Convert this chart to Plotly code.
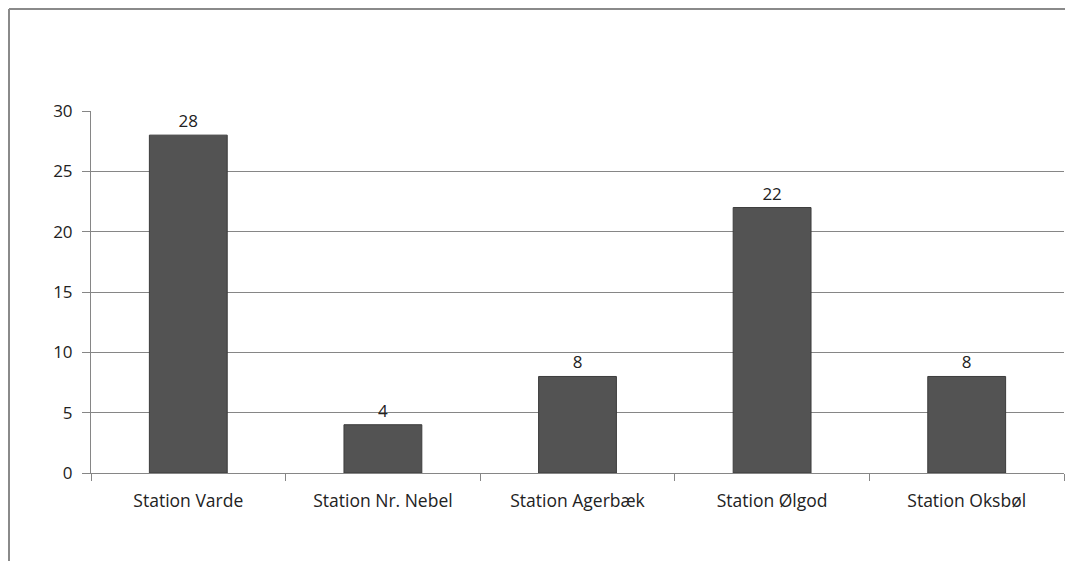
import plotly.graph_objects as go

categories = ["Station Varde", "Station Nr. Nebel", "Station Agerbæk", "Station Ølgod", "Station Oksbøl"]
values = [28, 4, 8, 22, 8]
y_ticks = [0, 5, 10, 15, 20, 25, 30]

# page body has an 8px margin, so the figure starts at (8, 8)
W, H = 1065, 553
L, T = 83, 103
pw, ph = 973, 362
R, B = W - L - pw, H - T - ph

fig = go.Figure()
fig.add_trace(go.Bar(
    x=categories, y=values,
    text=[str(v) for v in values], textposition="outside",
    textfont=dict(family="Open Sans, Liberation Sans, sans-serif", size=17, color="#222222"),
    marker=dict(color="#535353", line=dict(color="#3c3c3c", width=1)),
    width=0.4, cliponaxis=False,
))

fx0 = (1 - L) / pw
fy0 = 1 + (T - 1) / ph
fig.add_shape(type="line", xref="paper", yref="paper", x0=fx0, y0=fy0, x1=fx0, y1=-B / ph,
              line=dict(color="#8a8a8a", width=2))
fig.add_shape(type="line", xref="paper", yref="paper", x0=fx0, y0=fy0, x1=(W - L) / pw, y1=fy0,
              line=dict(color="#8a8a8a", width=2))

font = dict(family="Open Sans, Liberation Sans, sans-serif", size=17, color="#222222")
fig.update_layout(
    width=W, height=H, margin=dict(l=L, r=R, t=T, b=B),
    paper_bgcolor="white", plot_bgcolor="white",
    showlegend=False,
    font=font,
    xaxis=dict(showline=True, linecolor="#868686", linewidth=1, ticks="outside",
               tickson="boundaries", ticklen=7, tickcolor="#868686", showgrid=False,
               tickfont=dict(size=17.5), ticklabelstandoff=12),
    yaxis=dict(range=[0, 30], tickvals=y_ticks, showline=True, linecolor="#868686", linewidth=1,
               ticks="outside", ticklen=8, tickcolor="#868686", showgrid=True,
               gridcolor="#868686", gridwidth=1, zeroline=False,
               tickfont=dict(size=17), ticklabelstandoff=6),
)
fig.write_html("out.html")
